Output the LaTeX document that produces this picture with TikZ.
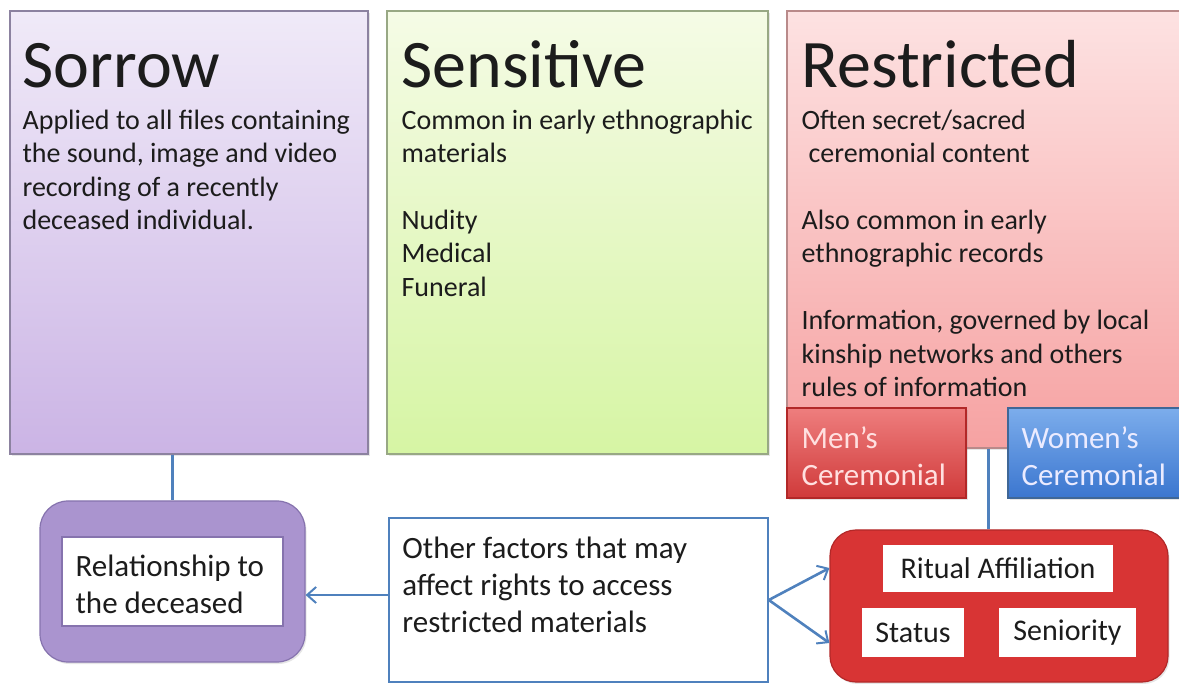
\documentclass[tikz,border=0pt]{standalone}
\usepackage{fontspec}
\setmainfont{Carlito}
\usetikzlibrary{arrows.meta,shadows}
\definecolor{conn}{HTML}{4F81BD}
\definecolor{ink}{HTML}{1C1C1C}
\definecolor{sortop}{HTML}{F0EAF8}
\definecolor{sorbot}{HTML}{CBB4E5}
\definecolor{sorline}{HTML}{8C82A0}
\definecolor{sentop}{HTML}{F5FBE6}
\definecolor{senbot}{HTML}{D6F5A4}
\definecolor{senline}{HTML}{98A884}
\definecolor{restop}{HTML}{FDE2E2}
\definecolor{resbot}{HTML}{F6A2A2}
\definecolor{resline}{HTML}{B98A8A}
\definecolor{mentop}{HTML}{EE7E7E}
\definecolor{menbot}{HTML}{D03A3A}
\definecolor{womtop}{HTML}{7CADEC}
\definecolor{wombot}{HTML}{3B76CF}
\definecolor{redfill}{HTML}{D83434}
\definecolor{redline}{HTML}{B22828}
\definecolor{purfill}{HTML}{AA94CF}
\definecolor{purline}{HTML}{8673AE}

\begin{document}
\begin{tikzpicture}[x=1pt,y=-1pt,
    box/.style={rectangle,inner sep=0pt,line width=1.2pt,drop shadow={opacity=0.2,shadow xshift=1.5pt,shadow yshift=-2pt}},
    title/.style={anchor=base west,inner sep=0pt,text=ink,font=\fontsize{68}{80}\selectfont},
    body/.style={anchor=base west,inner sep=0pt,text=ink,font=\fontsize{28}{33.4}\selectfont},
    big/.style={anchor=base west,inner sep=0pt,font=\fontsize{31}{37}\selectfont},
    wbox/.style={rectangle,fill=white,inner sep=0pt,text=ink,font=\fontsize{30}{36}\selectfont},
    link/.style={draw=conn,line width=2.6pt},
    arr/.style={link,-{Straight Barb[length=9pt,width=16pt,line width=2pt]}}]
\useasboundingbox (0,0) rectangle (1179,684);

\node[box,draw=sorline,top color=sortop,bottom color=sorbot,minimum width=358pt,minimum height=443pt] (sor) at (189,232.5) {};
\node[box,draw=senline,top color=sentop,bottom color=senbot,minimum width=381pt,minimum height=443pt] (sen) at (577.5,232.5) {};
\node[box,draw=resline,top color=restop,bottom color=resbot,minimum width=403pt,minimum height=437pt] (res) at (988.5,229.5) {};

\node[title] at ([xshift=13pt,yshift=-77pt]sor.north west) {Sorrow};
\node[title] at ([xshift=15pt,yshift=-77pt]sen.north west) {Sensitive};
\node[title] at ([xshift=15pt,yshift=-77pt]res.north west) {Restricted};

\node[body] at ([xshift=13pt,yshift=-119pt]sor.north west) {\parbox[t]{345pt}{Applied to all files containing\\
    the sound, image and video\\ recording of a recently\\ deceased individual.}};
\node[body] at ([xshift=15pt,yshift=-119pt]sen.north west) {\parbox[t]{365pt}{Common in early ethnographic\\
    materials\\[33.4pt] Nudity\\ Medical\\ Funeral}};
\node[body] at ([xshift=15pt,yshift=-119pt]res.north west) {\parbox[t]{385pt}{Often secret/sacred\\
    \hspace*{0.25em}ceremonial content\\[33.4pt] Also common in early\\ ethnographic records\\[33.4pt]
    Information, governed by local\\ kinship networks and others\\ rules of information}};

\node[box,draw=redline,top color=mentop,bottom color=menbot,minimum width=179pt,minimum height=90pt] (men) at (876.5,453) {};
\node[box,draw=conn!80!black,top color=womtop,bottom color=wombot,minimum width=182pt,minimum height=90pt] (wom) at (1099,453) {};
\node[big,text=red!12] at ([xshift=15pt,yshift=-41pt]men.north west) {\parbox[t]{170pt}{Men’s\\ Ceremonial}};
\node[big,text=blue!8] at ([xshift=14pt,yshift=-41pt]wom.north west) {\parbox[t]{170pt}{Women’s\\ Ceremonial}};

\node[box,draw=purline,fill=purfill,rounded corners=28pt,minimum width=265pt,minimum height=161pt] (rel) at (172.5,581.5) {};
\node[wbox,draw=purline,line width=1.2pt,minimum width=221pt,minimum height=89pt] (relin) at (172.5,581.5) {};
\node[big,text=ink] at ([xshift=14pt,yshift=-40pt]relin.north west) {\parbox[t]{210pt}{Relationship to\\ the deceased}};

\node[wbox,draw=conn,line width=1.6pt,minimum width=379pt,minimum height=164pt] (oth) at (578.5,600) {};
\node[big,text=ink] at ([xshift=14pt,yshift=-41pt]oth.north west) {\parbox[t]{360pt}{Other factors that may\\
    affect rights to access\\ restricted materials}};

\node[box,draw=redline,fill=redfill,rounded corners=26pt,minimum width=338pt,minimum height=152pt] (red) at (999,606) {};
\node[wbox,minimum width=230pt,minimum height=47pt] (rit) at (998,568.5) {Ritual Affiliation};
\node[wbox,minimum width=102pt,minimum height=49pt] (sta) at (913,632.5) {Status};
\node[wbox,minimum width=137pt,minimum height=49pt] (sen2) at (1067.5,632.5) {Seniority};

\draw[link] (sor.south -| rel.north) -- (rel.north);
\draw[link] (res.south) -- (res.south |- red.north);
\draw[arr] (oth.west |- 0,595) -- (rel.east |- 0,595);
\draw[arr] (oth.east) -- ([yshift=38pt]red.west);
\draw[arr] (oth.east) -- ([yshift=-37pt]red.west);
\end{tikzpicture}
\end{document}
